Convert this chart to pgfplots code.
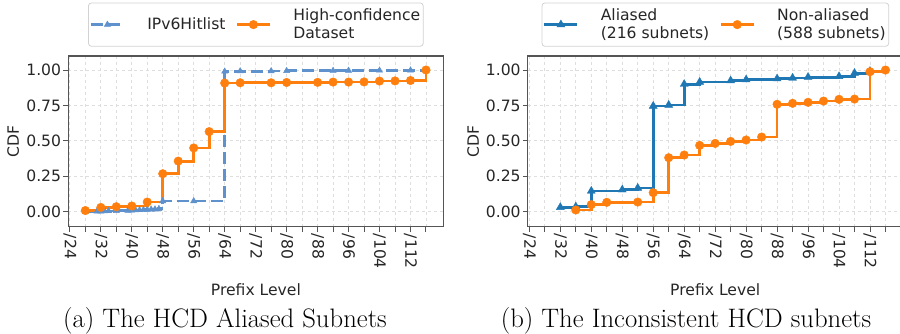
\documentclass[border=0pt]{standalone}
\usepackage{fontspec}
\setmainfont{DejaVu Sans}
\newfontfamily\lmfont{Latin Modern Roman}
\usepackage{pgfplots}
\usepackage{pgfplotstable}
\pgfplotsset{compat=1.18}

\definecolor{tabblue}{RGB}{31,119,180}
\definecolor{tabor}{RGB}{255,127,14}
\definecolor{lblue}{RGB}{95,145,205}
\definecolor{gridc}{RGB}{222,222,222}
\definecolor{spine}{RGB}{85,85,85}
\definecolor{legc}{RGB}{210,210,210}

\pgfplotstableread{
x y
28 0.000
31 0.002
32 0.003
33 0.004
34 0.005
36 0.006
39 0.008
40 0.010
41 0.011
42 0.012
43 0.013
44 0.015
45 0.016
46 0.017
47 0.020
48 0.075
56 0.075
64 0.990
68 0.992
76 0.993
80 0.994
92 0.995
96 0.996
104 0.997
112 0.998
116 1.000
}\hitlist

\pgfplotstableread{
x y
28 0.008
32 0.030
36 0.035
40 0.040
44 0.068
48 0.268
52 0.357
56 0.450
60 0.565
64 0.908
68 0.910
76 0.910
80 0.912
88 0.913
92 0.915
96 0.915
100 0.916
104 0.922
108 0.923
112 0.926
116 1.000
}\hcd

\pgfplotstableread{
x y
32 0.031
36 0.035
40 0.146
48 0.155
52 0.167
56 0.746
60 0.753
64 0.900
68 0.915
76 0.925
80 0.932
88 0.939
92 0.944
96 0.950
104 0.955
108 0.978
112 0.992
}\aliased

\pgfplotstableread{
x y
36 0.012
40 0.050
44 0.066
52 0.068
56 0.134
60 0.381
64 0.400
68 0.468
72 0.482
76 0.496
80 0.506
84 0.527
88 0.758
92 0.765
96 0.772
100 0.781
104 0.793
108 0.795
112 0.988
116 1.000
}\nonaliased

\pgfplotsset{
  cdfstyle/.style={
    scale only axis, width=375.1pt, height=170.7pt,
    xmin=23.6, xmax=120.5, ymin=-0.106, ymax=1.099,
    xtick={24,28,...,116},
    xticklabels={/24,,/32,,/40,,/48,,/56,,/64,,/72,,/80,,/88,,/96,,/104,,/112,},
    ytick={0,0.25,0.5,0.75,1},
    yticklabels={0.00,0.25,0.50,0.75,1.00},
    tick align=outside, tick pos=left,
    major tick length=5pt,
    every tick/.style={spine, line width=1pt},
    axis line style={spine, line width=1.2pt},
    grid=major, major grid style={gridc, dashed, line width=0.8pt},
    tick label style={font=\fontsize{15.6}{18}\selectfont, text=black!85},
    xticklabel style={rotate=-90, anchor=west, inner sep=2pt},
    yticklabel style={inner sep=2pt},
    legend columns=2,
    legend cell align=left,
    legend image code/.code={\draw[mark repeat=2,mark phase=2,##1, sharp plot] plot coordinates {(0pt,0pt) (16.5pt,0pt) (33pt,0pt)};},
    legend style={at={(0.5,1)}, anchor=south, yshift=9.3pt,
      draw=legc, line width=0.8pt, rounded corners=3pt,
      font=\fontsize{15.6}{18}\selectfont, text=black!85,
      cells={align=left},
      inner xsep=1pt, inner ysep=4pt,
      /tikz/every even column/.append style={column sep=8pt},
      /tikz/every odd column/.append style={column sep=20pt}},
  },
}

\begin{document}
\begin{tikzpicture}
\useasboundingbox (0,0) rectangle (900pt,334pt);

\begin{axis}[cdfstyle, at={(68.3pt,107.3pt)}, anchor=south west]
\addplot[const plot, lblue, line width=2.8pt, dash pattern=on 12pt off 5pt,
  mark=triangle*, mark size=3.6pt, mark options={solid, line width=0.4pt, fill=lblue, draw=lblue}]
  table[x=x,y=y] {\hitlist};
\addlegendentry{IPv6Hitlist}
\addplot[const plot, tabor, line width=2.8pt,
  mark=*, mark size=4.3pt, mark options={solid, line width=0.4pt, fill=tabor, draw=tabor}]
  table[x=x,y=y] {\hcd};
\addlegendentry{High-confidence\\Dataset}
\end{axis}

\begin{axis}[cdfstyle, at={(527.8pt,107.3pt)}, anchor=south west]
\addplot[const plot, tabblue, line width=2.8pt,
  mark=triangle*, mark size=4.6pt, mark options={solid, line width=0.4pt, fill=tabblue, draw=tabblue}]
  table[x=x,y=y] {\aliased};
\addlegendentry{Aliased\\(216 subnets)}
\addplot[const plot, tabor, line width=2.8pt,
  mark=*, mark size=4.3pt, mark options={solid, line width=0.4pt, fill=tabor, draw=tabor}]
  table[x=x,y=y] {\nonaliased};
\addlegendentry{Non-aliased\\(588 subnets)}
\end{axis}

\node[font=\fontsize{15.6}{18}\selectfont, text=black!85] at (255.9pt,44pt) {Prefix Level};
\node[font=\fontsize{15.6}{18}\selectfont, text=black!85] at (715.2pt,44pt) {Prefix Level};
\node[font=\fontsize{15.6}{18}\selectfont, text=black!85, rotate=90] at (13.3pt,192.5pt) {CDF};
\node[font=\fontsize{15.6}{18}\selectfont, text=black!85, rotate=90] at (473.3pt,192.5pt) {CDF};

\node[font=\lmfont\fontsize{26.7}{30}\selectfont] at (225pt,13pt) {(a) The HCD Aliased Subnets};
\node[font=\lmfont\fontsize{26.7}{30}\selectfont] at (686pt,13pt) {(b) The Inconsistent HCD subnets};
\end{tikzpicture}
\end{document}
